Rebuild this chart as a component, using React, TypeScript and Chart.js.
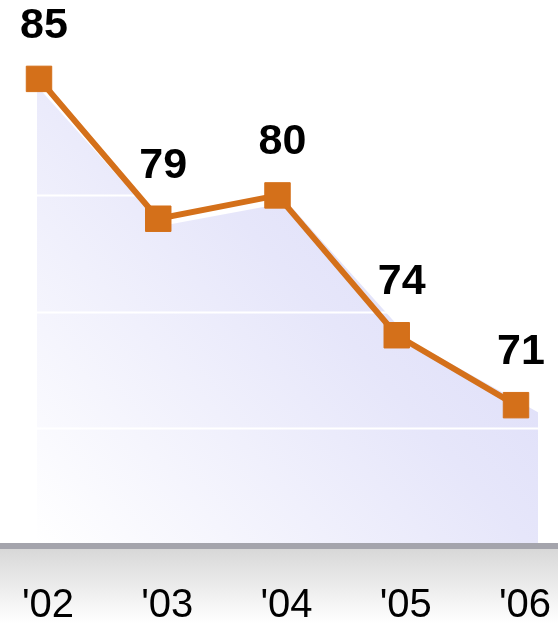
import React, { useEffect, useRef } from "react";
import { Chart, registerables } from "chart.js";

Chart.register(...registerables);

const years = ["'02", "'03", "'04", "'05", "'06"];
const values = [85, 79, 80, 74, 71];
const gridValues = [70, 75, 80];

const LINE_COLOR = "#d4701a";
const FONT = "'Liberation Sans', Arial, sans-serif";

export default function App() {
  const canvasRef = useRef<HTMLCanvasElement | null>(null);

  useEffect(() => {
    document.body.style.margin = "0";
    const canvas = canvasRef.current;
    if (!canvas) return;

    const bandPlugin = {
      id: "band",
      beforeDraw(chart: any) {
        const { ctx, chartArea, width, height } = chart;
        const top = chartArea.bottom + 4;
        const g = ctx.createLinearGradient(0, top, 0, height);
        g.addColorStop(0, "#d8d8d8");
        g.addColorStop(1, "#ffffff");
        ctx.save();
        ctx.fillStyle = g;
        ctx.fillRect(0, top, width, height - top);
        ctx.restore();
      },
      afterDatasetDraw(chart: any, args: any) {
        if (args.index !== 0) return;
        const { ctx, width } = chart;
        const ys = chart.scales.y;
        ctx.save();
        ctx.strokeStyle = "#ffffff";
        ctx.lineWidth = 2;
        gridValues.forEach((v) => {
          const py = Math.round(ys.getPixelForValue(v)) + 0.5;
          ctx.beginPath();
          ctx.moveTo(0, py);
          ctx.lineTo(width, py);
          ctx.stroke();
        });
        ctx.restore();
      },
      afterDatasetsDraw(chart: any) {
        const { ctx, chartArea, width } = chart;
        ctx.save();
        ctx.fillStyle = "#a4a4ac";
        ctx.fillRect(0, chartArea.bottom - 2, width, 6);
        const meta = chart.getDatasetMeta(1);
        ctx.fillStyle = "#000000";
        ctx.font = `bold 43px ${FONT}`;
        ctx.textAlign = "center";
        ctx.textBaseline = "middle";
        meta.data.forEach((pt: any, i: number) => {
          ctx.fillText(String(values[i]), pt.x + 5, pt.y - 53);
        });
        ctx.restore();
      },
    };

    const chart = new Chart(canvas, {
      type: "line",
      data: {
        datasets: [
          {
            data: values.map((v, i) => ({ x: i, y: v })),
            xAxisID: "x2",
            yAxisID: "y2",
            borderWidth: 0,
            pointRadius: 0,
            fill: "start",
            clip: false as any,
            order: 2,
            backgroundColor: (c: any) => {
              const area = c.chart.chartArea;
              if (!area) return "#e4e4fa";
              const g = c.chart.ctx.createLinearGradient(
                area.left,
                area.bottom,
                area.right,
                area.top + 80
              );
              g.addColorStop(0, "#ffffff");
              g.addColorStop(0.55, "#e6e6fa");
              g.addColorStop(1, "#d8d8f8");
              return g;
            },
          },
          {
            data: values.map((v, i) => ({ x: i, y: v })),
            xAxisID: "x",
            yAxisID: "y",
            borderColor: LINE_COLOR,
            borderWidth: 6,
            pointStyle: "rect",
            pointRadius: 18,
            pointBackgroundColor: LINE_COLOR,
            pointBorderColor: LINE_COLOR,
            pointBorderWidth: 1,
            fill: false,
            clip: false as any,
            order: 1,
          },
        ],
      },
      options: {
        animation: false,
        responsive: true,
        maintainAspectRatio: false,
        layout: { padding: { top: 8, left: 37, right: 20, bottom: 0 } },
        plugins: { legend: { display: false }, tooltip: { enabled: false } },
        scales: {
          x: {
            type: "linear",
            min: -0.0168,
            max: 4.1845,
            grid: { display: false, drawTicks: false },
            border: { display: false },
            afterBuildTicks: (scale: any) => {
              scale.ticks = years.map((_, i) => ({ value: i }));
            },
            ticks: {
              color: "#000000",
              font: { family: FONT, size: 40, lineHeight: 1 },
              padding: 41,
              labelOffset: 9,
              maxRotation: 0,
              autoSkip: false,
              callback: (v: any) => years[Math.round(Number(v))] ?? "",
            },
            afterFit: (scale: any) => {
              scale.height = 78;
              scale.paddingLeft = 0;
              scale.paddingRight = 0;
            },
          },
          x2: {
            type: "linear",
            display: false,
            min: 0,
            max: 4,
          },
          y: {
            display: false,
            min: 65,
            max: 87.57,
          },
          y2: {
            display: false,
            min: 65.3,
            max: 87.87,
          },
        },
      },
      plugins: [bandPlugin],
    });

    return () => chart.destroy();
  }, []);

  return (
    <div style={{ position: "relative", width: 558, height: 623 }}>
      <canvas ref={canvasRef} />
    </div>
  );
}
